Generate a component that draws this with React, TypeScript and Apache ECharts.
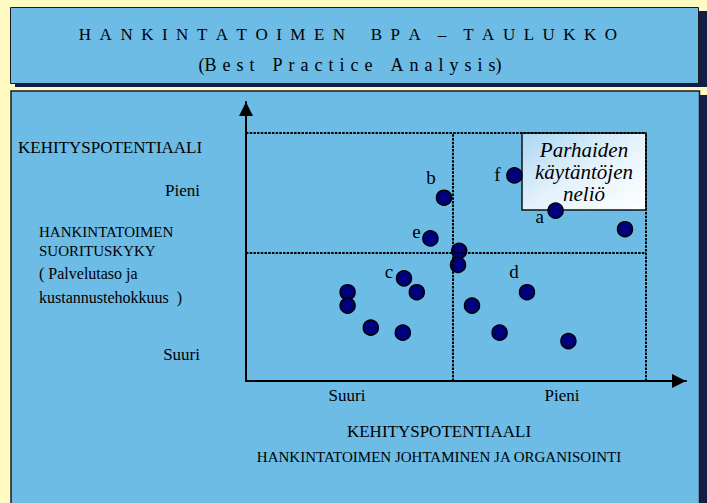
import React, { useEffect, useRef } from 'react';
import * as echarts from 'echarts';

// ---- data ----
const pointNames = ['b', 'f', 'a', '', 'e', '', '', 'c', '', '', '', 'd', '', '', '', '', ''];
const pointX = [49.5, 67.1, 77.4, 94.75, 46.1, 53.3, 53.0, 39.5, 42.7, 25.4, 25.4, 70.25, 56.5, 31.2, 39.2, 63.4, 80.6];
const pointY = [73.9, 82.9, 68.7, 61.2, 57.5, 52.5, 46.8, 41.4, 35.8, 35.8, 30.4, 35.8, 30.4, 21.5, 19.5, 19.5, 16.1];

const xTickLabels = ['Suuri', 'Pieni'];
const xTickValues = [25.25, 79];
const yTickLabels = ['Pieni', 'Suuri'];
const yTickValues = [77, 10.5];

const frameMax = 100;
const quadrantX = 51.75;
const quadrantY = 51.6;
const bestBoxX = [69, 100];
const bestBoxY = [69, 100];
const bestBoxLabel = 'Parhaiden\nkäytäntöjen\nneliö';

const titleText = 'H\u2002A\u2002N\u2002K\u2002I\u2002N\u2002T\u2002A\u2002T\u2002O\u2002I\u2002M\u2002E\u2002N\u2002\u2002\u2002B\u2002P\u2002A\u2002\u2002–\u2002\u2002T\u2002A\u2002U\u2002L\u2002U\u2002K\u2002K\u2002O';
const subtitleText = '(B\u2004e\u2004s\u2004t\u2004\u2004\u2004P\u2004r\u2004a\u2004c\u2004t\u2004i\u2004c\u2004e\u2004\u2004\u2004A\u2004n\u2004a\u2004l\u2004y\u2004s\u2004i\u2004s)';
const yTitleLines = ['HANKINTATOIMEN', 'SUORITUSKYKY', '( Palvelutaso ja', 'kustannustehokkuus  )'];
const axisGroupTitle = 'KEHITYSPOTENTIAALI';
const xTitle = 'HANKINTATOIMEN JOHTAMINEN JA ORGANISOINTI';

// ---- styles ----
const FONT = '"Liberation Serif", "Times New Roman", serif';
const YELLOW = '#FFF9C2';
const BLUE = '#6CBCE6';
const SHADOW = '#141D45';
const labelOffsets: Record<string, [number, number]> = {
  b: [-13, -20],
  f: [-17, -1],
  a: [-16, 6],
  e: [-14, -7],
  c: [-15, -7],
  d: [-13, -21],
};

export default function App() {
  const ref = useRef<HTMLDivElement>(null);
  useEffect(() => {
    if (!ref.current) return;
    const chart = echarts.init(ref.current, null, { renderer: 'svg' });

    const dotted = { color: '#000', width: 2, type: [2.5, 1.2] as any };
    const seg = (a: [number, number], b: [number, number], w = 2) => [
      { coord: a, lineStyle: { ...dotted, width: w } },
      { coord: b },
    ];

    const option: any = {
      animation: false,
      backgroundColor: YELLOW,
      grid: { left: 246, right: 21, top: 102, bottom: 122 },
      xAxis: {
        type: 'value',
        min: 0,
        max: 110,
        z: 6,
        axisLine: {
          show: true,
          symbol: ['none', 'triangle'],
          symbolSize: [14, 14],
          symbolOffset: [0, -7],
          lineStyle: { color: '#000', width: 2 },
        },
        axisTick: { show: false },
        splitLine: { show: false },
        axisLabel: {
          customValues: xTickValues,
          formatter: (v: number) => {
            const i = xTickValues.findIndex((t) => Math.abs(t - v) < 0.01);
            return i >= 0 ? xTickLabels[i] : '';
          },
          margin: 6,
          fontFamily: FONT,
          fontSize: 17,
          color: '#000',
        },
      },
      yAxis: {
        type: 'value',
        min: 0,
        max: 112.5,
        z: 6,
        axisLine: {
          show: true,
          symbol: ['none', 'triangle'],
          symbolSize: [14, 14],
          symbolOffset: [0, -7],
          lineStyle: { color: '#000', width: 2 },
        },
        axisTick: { show: false },
        splitLine: { show: false },
        axisLabel: {
          customValues: yTickValues,
          formatter: (v: number) => {
            const i = yTickValues.findIndex((t) => Math.abs(t - v) < 0.01);
            return i >= 0 ? yTickLabels[i] : '';
          },
          margin: 46,
          fontFamily: FONT,
          fontSize: 17,
          color: '#000',
        },
      },
      graphic: {
        elements: [
          { type: 'rect', z: -10, shape: { x: 15, y: 11, width: 692, height: 76 }, style: { fill: SHADOW } },
          { type: 'rect', z: -9, shape: { x: 10.5, y: 7.5, width: 688, height: 76 }, style: { fill: BLUE, stroke: '#1a1a1a', lineWidth: 1 } },
          { type: 'rect', z: -10, shape: { x: 15, y: 95, width: 692, height: 420 }, style: { fill: SHADOW } },
          { type: 'rect', z: -9, shape: { x: 11, y: 91, width: 688.5, height: 420 }, style: { fill: BLUE, stroke: '#1a1a1a', lineWidth: 1.5 } },
          {
            type: 'text', z: 10, x: 348, y: 34,
            style: { text: titleText, font: `17px ${FONT}`, fill: '#000', align: 'center', verticalAlign: 'middle' },
          },
          {
            type: 'text', z: 10, x: 350, y: 65,
            style: { text: subtitleText, font: `18px ${FONT}`, fill: '#000', align: 'center', verticalAlign: 'middle' },
          },
          {
            type: 'text', z: 10, x: 18, y: 147,
            style: { text: axisGroupTitle, font: `17px ${FONT}`, fill: '#000', align: 'left', verticalAlign: 'middle' },
          },
          ...yTitleLines.map((t, i) => ({
            type: 'text', z: 10, x: 39, y: [232, 251, 273, 297][i],
            style: { text: t, font: `${i < 2 ? 15 : 16}px ${FONT}`, fill: '#000', align: 'left', verticalAlign: 'middle' },
          })),
          {
            type: 'text', z: 10, x: 439, y: 431,
            style: { text: axisGroupTitle, font: `17px ${FONT}`, fill: '#000', align: 'center', verticalAlign: 'middle' },
          },
          {
            type: 'text', z: 10, x: 439, y: 457,
            style: { text: xTitle, font: `15px ${FONT}`, fill: '#000', align: 'center', verticalAlign: 'middle' },
          },
          {
            type: 'text', z: 3, x: 584, y: 172,
            style: {
              text: bestBoxLabel,
              fontFamily: 'Liberation Serif',
              fontStyle: 'italic',
              fontSize: 21,
              lineHeight: 22,
              fill: '#000',
              align: 'center',
              verticalAlign: 'middle',
            },
          },
        ],
      },
      series: [
        {
          type: 'scatter',
          z: 1,
          data: [],
          clip: false,
          silent: true,
          markLine: {
            silent: true,
            symbol: ['none', 'none'],
            label: { show: false },
            lineStyle: dotted,
            data: [
              seg([0, frameMax], [frameMax, frameMax]),
              seg([frameMax, 0], [frameMax, frameMax]),
              seg([quadrantX, 0], [quadrantX, frameMax]),
              seg([0, quadrantY], [frameMax, quadrantY]),
              seg([0, -0.8], [frameMax, -0.8], 3),
            ],
          },
        },
        {
          type: 'scatter',
          z: 2,
          data: [],
          clip: false,
          silent: true,
          markArea: {
            silent: true,
            itemStyle: {
              color: new echarts.graphic.LinearGradient(0, 0, 1, 1, [
                { offset: 0, color: '#A9D6F1' },
                { offset: 0.5, color: '#E4F2FB' },
                { offset: 1, color: '#FFFFFF' },
              ]),
              borderColor: '#111',
              borderWidth: 1.5,
              opacity: 1,
            },
            label: { show: false },
            data: [[
              { coord: [bestBoxX[0], bestBoxY[1]] },
              { coord: [bestBoxX[1], bestBoxY[0]] },
            ]],
          },
        },
        {
          type: 'scatter',
          z: 4,
          symbolSize: 15,
          itemStyle: { color: '#00007F', borderColor: '#000', borderWidth: 1.5, opacity: 1 },
          label: {
            show: false,
            position: 'inside',
            formatter: '{b}',
            fontFamily: FONT,
            fontSize: 19,
            color: '#000',
          },
          data: pointX.map((x, i) => ({
            value: [x, pointY[i]],
            name: pointNames[i],
            label: pointNames[i]
              ? { show: true, offset: labelOffsets[pointNames[i]] }
              : { show: false },
          })),
        },
      ],
    };
    chart.setOption(option);
    return () => chart.dispose();
  }, []);

  return (
    <div
      ref={ref}
      style={{ position: 'fixed', left: 0, top: 0, width: 707, height: 503 }}
    />
  );
}
